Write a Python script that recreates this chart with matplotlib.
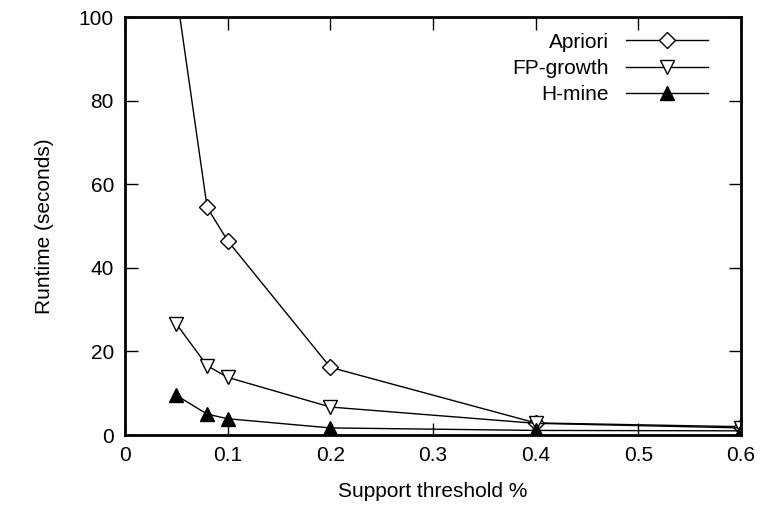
import matplotlib
matplotlib.use("Agg")
import matplotlib.pyplot as plt

plt.rcParams['font.family'] = ['Liberation Sans', 'DejaVu Sans']

support = [0.05, 0.08, 0.1, 0.2, 0.4, 0.6]
apriori = [106, 54.5, 46.5, 16.2, 2.9, 2.0]
fpgrowth = [26.6, 16.6, 13.8, 6.7, 2.8, 1.7]
hmine = [9.5, 5.0, 3.9, 1.7, 1.1, 1.0]

fig = plt.figure(figsize=(7.65, 5.18), dpi=100)
ax = fig.add_axes([0.1634, 0.1602, 0.8052, 0.8064])

ax.plot(support, apriori, color='black', lw=1, marker='D', ms=8,
        mfc='white', mec='black', mew=1, label='Apriori')
ax.plot(support, fpgrowth, color='black', lw=1, marker='v', ms=10,
        mfc='white', mec='black', mew=1, label='FP-growth')
ax.plot(support, hmine, color='black', lw=1, marker='^', ms=10,
        mfc='black', mec='black', mew=1, label='H-mine')

ax.set_xlim(0, 0.6)
ax.set_ylim(0, 100)
ax.set_xticks([0, 0.1, 0.2, 0.3, 0.4, 0.5, 0.6])
ax.set_xticklabels(['0', '0.1', '0.2', '0.3', '0.4', '0.5', '0.6'])
ax.set_yticks([0, 20, 40, 60, 80, 100])
ax.tick_params(direction='in', top=True, right=True, length=9, width=1,
               labelsize=15, pad=8)
for s in ax.spines.values():
    s.set_linewidth(2)

ax.set_xlabel('Support threshold %', fontsize=15, labelpad=12)
ax.set_ylabel('Runtime (seconds)', fontsize=15, labelpad=18)

leg = ax.legend(loc='upper right', bbox_to_anchor=(0.946, 0.963),
                frameon=False, fontsize=15, markerfirst=False,
                handlelength=3.9, handletextpad=0.85, labelspacing=0.35,
                borderaxespad=0, borderpad=0)
for t in leg.get_texts():
    t.set_ha('right')
leg._legend_box.align = 'right'

fig.savefig('out.png', dpi=100)
